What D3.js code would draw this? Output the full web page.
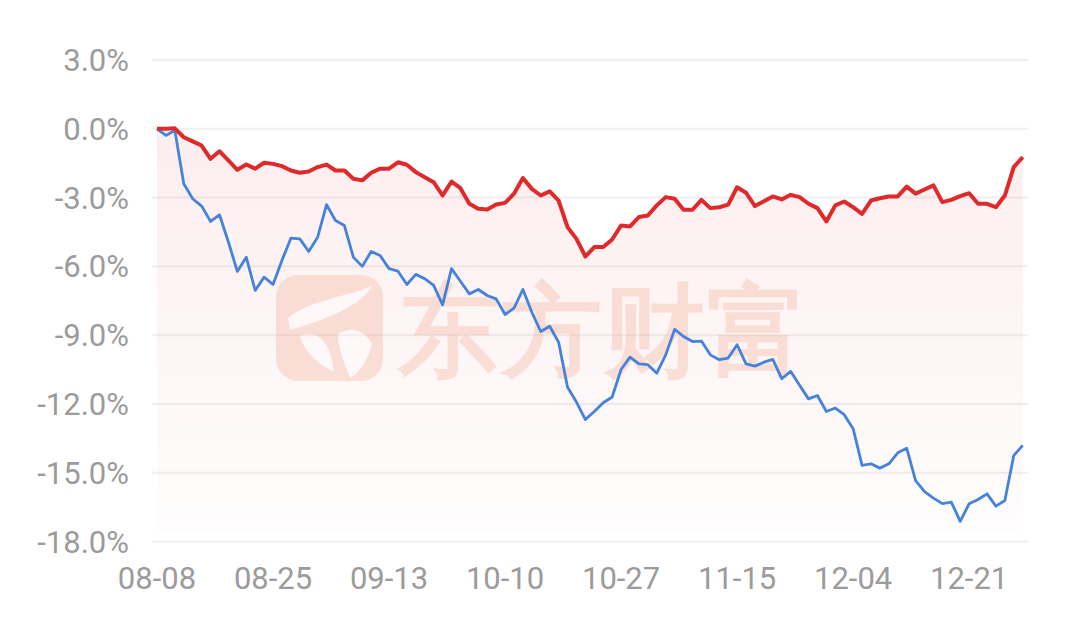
<!DOCTYPE html>
<meta charset="utf-8">
<script src="https://d3js.org/d3.v7.min.js"></script>
<style>
  body { margin: 0; background: #fff; }
  text { font-family: Roboto, "Noto Sans", sans-serif; }
</style>
<div id="my_dataviz"></div>
<script>
  // tick labels, one every 13 trading days
  var tickLabels = ["08-08", "08-25", "09-13", "10-10", "10-27", "11-15", "12-04", "12-21"];
  var tickStep = 13;
  var yTicks = [3, 0, -3, -6, -9, -12, -15, -18];

  // red line (with shaded area)
  var redValues = [0, 0, 0.02, -0.37, -0.55, -0.73, -1.31, -0.98, -1.38, -1.79,
    -1.56, -1.74, -1.48, -1.53, -1.63, -1.82, -1.92, -1.86, -1.67, -1.56,
    -1.82, -1.82, -2.18, -2.25, -1.92, -1.74, -1.74, -1.46, -1.57, -1.89,
    -2.11, -2.33, -2.91, -2.3, -2.59, -3.27, -3.49, -3.52, -3.3, -3.23,
    -2.83, -2.15, -2.62, -2.91, -2.73, -3.13, -4.29, -4.8, -5.57, -5.16,
    -5.16, -4.83, -4.22, -4.26, -3.85, -3.78, -3.34, -2.98, -3.05, -3.53,
    -3.53, -3.1, -3.46, -3.42, -3.31, -2.55, -2.79, -3.37, -3.16, -2.95,
    -3.08, -2.88, -2.98, -3.27, -3.46, -4.04, -3.34, -3.17, -3.42, -3.71,
    -3.13, -3.03, -2.95, -2.95, -2.52, -2.83, -2.65, -2.47, -3.2, -3.1,
    -2.94, -2.81, -3.27, -3.27, -3.42, -2.91, -1.67, -1.24];

  // blue line
  var blueValues = [0, -0.29, -0.07, -2.4, -3.05, -3.37, -4.04, -3.75, -4.94, -6.22,
    -5.6, -7.05, -6.47, -6.79, -5.74, -4.77, -4.8, -5.35, -4.73, -3.31,
    -4.0, -4.22, -5.6, -6.0, -5.35, -5.53, -6.1, -6.21, -6.79, -6.35,
    -6.54, -6.83, -7.68, -6.1, -6.65, -7.2, -7.01, -7.27, -7.42, -8.1,
    -7.82, -7.01, -8.0, -8.84, -8.61, -9.31, -11.27, -11.92, -12.68, -12.33,
    -11.95, -11.7, -10.5, -9.96, -10.25, -10.29, -10.66, -9.86, -8.75, -9.06,
    -9.28, -9.26, -9.86, -10.07, -10.0, -9.42, -10.25, -10.35, -10.18, -10.06,
    -10.9, -10.58, -11.19, -11.78, -11.63, -12.33, -12.18, -12.47, -13.08, -14.68,
    -14.61, -14.8, -14.61, -14.13, -13.93, -15.34, -15.82, -16.11, -16.35, -16.28,
    -17.12, -16.35, -16.17, -15.92, -16.46, -16.21, -14.25, -13.81];

  var width = 1080, height = 622;

  var svg = d3.select("#my_dataviz")
    .append("svg")
    .attr("width", width)
    .attr("height", height);

  var x = d3.scaleLinear().domain([0, redValues.length - 1]).range([157, 1022.7]);
  var y = d3.scaleLinear().domain([-18, 3]).range([541.5, 60]);

  // gridlines
  svg.selectAll("grid")
    .data(yTicks)
    .enter()
    .append("line")
    .attr("x1", 152)
    .attr("x2", 1028)
    .attr("y1", function (d) { return y(d); })
    .attr("y2", function (d) { return y(d); })
    .attr("stroke", "#efefef")
    .attr("stroke-width", 2);

  // y labels
  svg.selectAll("ylab")
    .data(yTicks)
    .enter()
    .append("text")
    .attr("x", 129)
    .attr("y", function (d) { return y(d) + 11; })
    .attr("text-anchor", "end")
    .attr("font-size", "31px")
    .attr("fill", "#9b9b9b")
    .text(function (d) { return d.toFixed(1) + "%"; });

  // x labels
  svg.selectAll("xlab")
    .data(tickLabels)
    .enter()
    .append("text")
    .attr("x", function (d, i) { return x(i * tickStep); })
    .attr("y", 589)
    .attr("text-anchor", "middle")
    .attr("font-size", "31px")
    .attr("fill", "#9b9b9b")
    .text(function (d) { return d; });

  // shaded area under the red line
  var defs = svg.append("defs");
  var grad = defs.append("linearGradient")
    .attr("id", "redFill")
    .attr("gradientUnits", "userSpaceOnUse")
    .attr("x1", 0).attr("x2", 0)
    .attr("y1", y(0)).attr("y2", y(-18));
  grad.append("stop").attr("offset", "0%").attr("stop-color", "#e23c3c").attr("stop-opacity", 0.09);
  grad.append("stop").attr("offset", "100%").attr("stop-color", "#e23c3c").attr("stop-opacity", 0.01);

  var area = d3.area()
    .x(function (d, i) { return x(i); })
    .y0(y(-17.6))
    .y1(function (d) { return y(d); });

  svg.append("path")
    .datum(redValues)
    .attr("d", area)
    .attr("fill", "url(#redFill)");

  // watermark
  var wm = svg.append("g").attr("opacity", 0.3);
  wm.append("rect")
    .attr("x", 276).attr("y", 275)
    .attr("width", 107).attr("height", 106)
    .attr("rx", 22)
    .attr("fill", "#f2a98c");
  wm.append("path")
    .attr("d", "M288,318 C310,300 350,296 372,286 C360,306 330,318 290,330 Z M300,336 C318,330 330,340 334,372 C318,364 304,352 300,336 Z M338,334 C352,326 364,330 372,344 C368,360 360,372 350,378 C344,362 338,348 338,334 Z")
    .attr("fill", "#fff");
  wm.append("text")
    .attr("x", 398)
    .attr("y", 366)
    .attr("font-family", "'Noto Sans CJK SC', sans-serif")
    .attr("font-weight", "bold")
    .attr("font-size", "101px")
    .attr("letter-spacing", "2px")
    .attr("fill", "#f2a98c")
    .text("东方财富");

  var line = d3.line()
    .x(function (d, i) { return x(i); })
    .y(function (d) { return y(d); });

  svg.append("path")
    .datum(blueValues)
    .attr("d", line)
    .attr("fill", "none")
    .attr("stroke", "#4482dc")
    .attr("stroke-width", 2.8)
    .attr("stroke-linejoin", "round");

  svg.append("path")
    .datum(redValues)
    .attr("d", line)
    .attr("fill", "none")
    .attr("stroke", "#e0292b")
    .attr("stroke-width", 4)
    .attr("stroke-linejoin", "round");
</script>
